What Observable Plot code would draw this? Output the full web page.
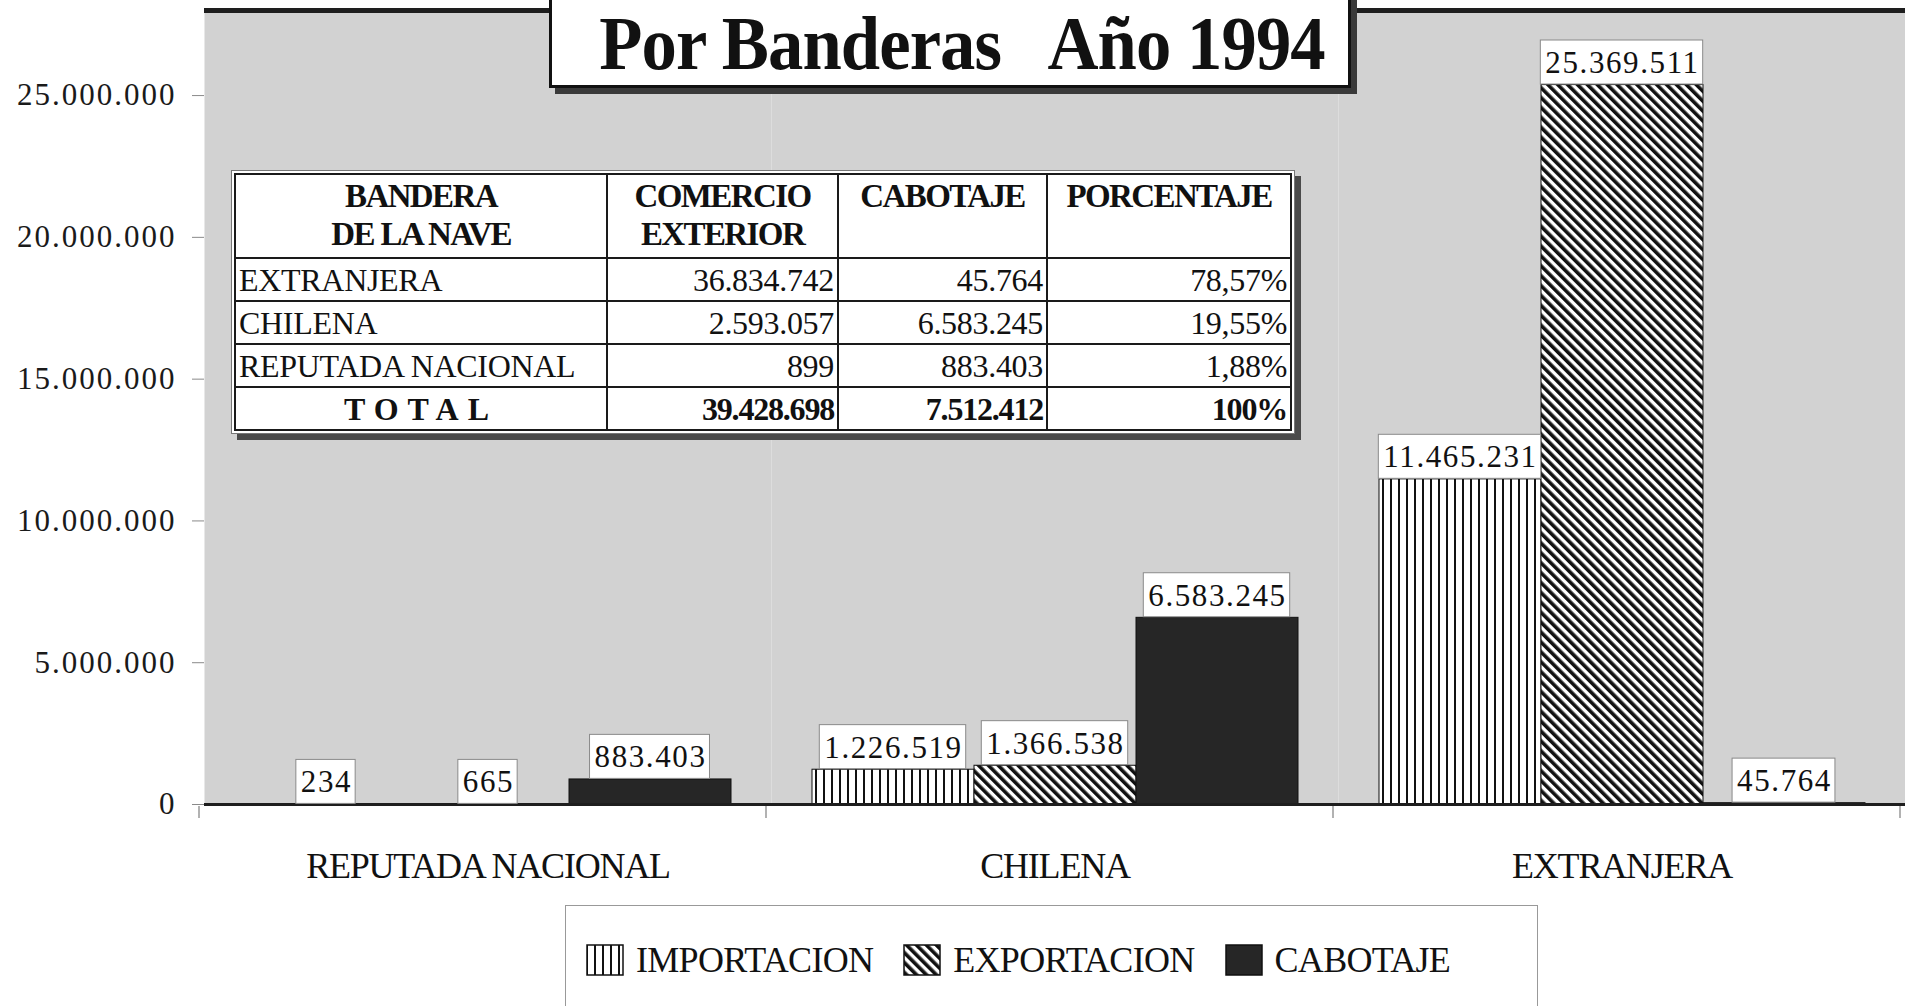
<!DOCTYPE html>
<html>
<head>
<meta charset="utf-8">
<script src="https://cdn.jsdelivr.net/npm/d3@7"></script>
<script src="https://cdn.jsdelivr.net/npm/@observablehq/plot@0.6"></script>
<style>
  html, body { margin: 0; padding: 0; background: #fff; }
  body { width: 1905px; height: 1006px; overflow: hidden; position: relative; font-family: 'Liberation Serif', 'Times New Roman', serif; color: #111; }
  #chart { position: absolute; left: 0; top: 0; }
  #title {
    position: absolute; left: 549px; top: -14px; width: 796px; height: 96px;
    background: #fff; border: 3px solid #111; box-shadow: 6px 6px 0 #3a3a3a;
    z-index: 3;
  }
  #title span {
    position: absolute; left: 50%; top: 16px; white-space: pre;
    font-weight: bold; font-size: 76px; letter-spacing: -1px; line-height: 76px;
    transform: translateX(-50%) scaleX(0.93); transform-origin: center; margin-left: 12px;
  }
  #tablewrap {
    position: absolute; left: 231px; top: 170px; z-index: 3;
    border: 1px solid #777; padding: 2px; background: #fff;
    box-shadow: 6px 6px 0 #4a4a4a;
  }
  #tablewrap table { border-collapse: collapse; border: 2px solid #1a1a1a; table-layout: fixed; width: 1056px; }
  #tablewrap td { border: 2px solid #1a1a1a; padding: 0 3px; font-size: 32px; line-height: 40px; height: 41px; letter-spacing: -0.3px; white-space: nowrap; overflow: hidden; }
  #tablewrap td.h { font-weight: bold; text-align: center; vertical-align: top; line-height: 38px; height: 80px; letter-spacing: -1.6px; padding-top: 2px; font-size: 33px; }
  #tablewrap td.n { text-align: right; }
  #tablewrap tr.tot td { font-weight: bold; letter-spacing: -1.2px; }
  #tablewrap tr.tot td.lab { text-align: center; letter-spacing: 9px; }
  #legend {
    position: absolute; left: 565px; top: 905px; width: 973px; height: 130px;
    border: 1.5px solid #999; background: #fff; z-index: 3;
    display: flex; align-items: flex-start; padding-left: 20px; box-sizing: border-box;
  }
  #legend .item { display: flex; align-items: center; margin-top: 36px; margin-right: 30px; }
  #legend .item svg { margin-right: 12px; }
  #legend .item span { font-size: 36px; letter-spacing: -0.7px; line-height: 36px; }
</style>
</head>
<body>
<div id="chart"></div>
<div id="title"></div>
<div id="tablewrap"></div>
<div id="legend"></div>
<script>
// ---------- data ----------
const titleText = "Por Banderas   Año 1994";
const categories = ["REPUTADA NACIONAL", "CHILENA", "EXTRANJERA"];
const series = ["IMPORTACION", "EXPORTACION", "CABOTAJE"];
const importacion = [234, 1226519, 11465231];
const exportacion = [665, 1366538, 25369511];
const cabotaje = [883403, 6583245, 45764];
const yTicks = [0, 5000000, 10000000, 15000000, 20000000, 25000000];

// table
const tableHeaders = [["BANDERA", "DE LA NAVE"], ["COMERCIO", "EXTERIOR"], ["CABOTAJE"], ["PORCENTAJE"]];
const tableFlags = ["EXTRANJERA", "CHILENA", "REPUTADA NACIONAL"];
const tableComercio = [36834742, 2593057, 899];
const tableCabotaje = [45764, 6583245, 883403];
const tablePorcentaje = ["78,57%", "19,55%", "1,88%"];
const totalLabel = "TOTAL";
const totalComercio = 39428698;
const totalCabotaje = 7512412;
const totalPorcentaje = "100%";

// ---------- helpers ----------
const locale = d3.formatLocale({decimal: ",", thousands: ".", grouping: [3], currency: ["", ""]});
const fmt = locale.format(",");
const seriesValues = [importacion, exportacion, cabotaje];
const data = categories.flatMap((c, i) => series.map((s, j) => ({cat: c, serie: s, value: seriesValues[j][i]})));

const W = 1905, H = 905;
const plot = Plot.plot({
  width: W, height: H,
  marginTop: 10, marginBottom: 101, marginLeft: 204, marginRight: 0,
  style: {fontFamily: "'Liberation Serif', 'Times New Roman', serif", fontSize: "31px", color: "#1a1a1a", background: "transparent", letterSpacing: "2px"},
  fx: {domain: categories, padding: 0, label: null},
  x: {domain: series, paddingInner: 0, paddingOuter: 0.25, axis: null},
  y: {domain: [0, 28000000], label: null},
  color: {domain: series, range: ["url(#pat-imp)", "url(#pat-exp)", "#262626"]},
  marks: [
    Plot.frame({fill: "#d2d2d2", stroke: null}),
    Plot.barY(data, {fx: "cat", x: "serie", y: "value", fill: "serie", stroke: "#111", strokeWidth: 1}),
    Plot.ruleY([0], {stroke: "#1e1e1e", strokeWidth: 3}),
    Plot.ruleY([28000000], {stroke: "#1e1e1e", strokeWidth: 5}),
    Plot.axisY({ticks: yTicks, tickFormat: fmt, tickSize: 12, tickPadding: 16, stroke: "#8a8a8a", fill: "#1a1a1a", label: null}),
    Plot.axisY({ticks: [], line: true, stroke: "#1e1e1e", strokeWidth: 4, label: null}),
    Plot.axisFx({anchor: "bottom", tickSize: 0, tickPadding: 48, fontSize: 36, fill: "#111", label: null}),
    Plot.text(data, {fx: "cat", x: "serie", y: "value", text: d => fmt(d.value), dy: -22, lineAnchor: "middle", fill: "#111", fontSize: 31})
  ]
});
document.getElementById("chart").appendChild(plot);

// pattern definitions (hatch fills used by the color scale)
const svg = d3.select(plot.tagName.toLowerCase() === "svg" ? plot : plot.querySelector("svg"));
const defs = svg.insert("defs", ":first-child");
const pImp = defs.append("pattern").attr("id", "pat-imp").attr("patternUnits", "userSpaceOnUse").attr("width", 8).attr("height", 8);
pImp.append("rect").attr("width", 8).attr("height", 8).attr("fill", "#fff");
pImp.append("rect").attr("x", 0).attr("width", 2).attr("height", 8).attr("fill", "#111");
const pExp = defs.append("pattern").attr("id", "pat-exp").attr("patternUnits", "userSpaceOnUse").attr("width", 7).attr("height", 7).attr("patternTransform", "rotate(-45)");
pExp.append("rect").attr("width", 7).attr("height", 7).attr("fill", "#fff");
pExp.append("rect").attr("x", 0).attr("width", 3.6).attr("height", 7).attr("fill", "#111");

// letter spacing of category labels and value labels
svg.selectAll('g[aria-label="fx-axis tick label"]').style("letter-spacing", "-1.2px");
svg.selectAll('g[aria-label="text"]').style("letter-spacing", "1.6px");

// white boxes behind value labels
svg.selectAll('g[aria-label="text"] text').each(function() {
  const bb = this.getBBox();
  const r = document.createElementNS("http://www.w3.org/2000/svg", "rect");
  r.setAttribute("x", bb.x - 5);
  r.setAttribute("y", bb.y - 5);
  r.setAttribute("width", bb.width + 8);
  r.setAttribute("height", bb.height + 9);
  r.setAttribute("fill", "#fff");
  r.setAttribute("stroke", "#8a8a8a");
  r.setAttribute("stroke-width", 1);
  const t = this.getAttribute("transform");
  if (t) r.setAttribute("transform", t);
  this.parentNode.insertBefore(r, this);
});

// small ticks at category boundaries, from the fx scale
try {
  const fx = plot.scale("fx");
  const band = d3.scaleBand().domain(fx.domain).range(fx.range).paddingInner(fx.paddingInner || 0).paddingOuter(fx.paddingOuter || 0);
  const y0 = plot.scale("y").apply(0);
  const edges = fx.domain.map(d => band(d)).concat([band(fx.domain[fx.domain.length - 1]) + band.bandwidth()]);
  svg.append("g").selectAll("line").data(edges).join("line")
    .attr("x1", d => d - 5).attr("x2", d => d - 5).attr("y1", y0 + 2).attr("y2", y0 + 14)
    .attr("stroke", "#999").attr("stroke-width", 1.5);
} catch (e) {}

// title
d3.select("#title").append("span").text(titleText);

// table
const tw = d3.select("#tablewrap").append("table");
const colW = [372, 231, 209, 244];
const cg = tw.append("colgroup");
colW.forEach(w => cg.append("col").style("width", w + "px"));
const hr = tw.append("tr");
tableHeaders.forEach((h, i) => hr.append("td").attr("class", "h").html(h.join("<br>")));
tableFlags.forEach((f, i) => {
  const tr = tw.append("tr");
  tr.append("td").text(f);
  tr.append("td").attr("class", "n").text(fmt(tableComercio[i]));
  tr.append("td").attr("class", "n").text(fmt(tableCabotaje[i]));
  tr.append("td").attr("class", "n").text(tablePorcentaje[i]);
});
const tt = tw.append("tr").attr("class", "tot");
tt.append("td").attr("class", "lab").text(totalLabel);
tt.append("td").attr("class", "n").text(fmt(totalComercio));
tt.append("td").attr("class", "n").text(fmt(totalCabotaje));
tt.append("td").attr("class", "n").text(totalPorcentaje);

// legend (swatches from the plot's color scale)
const color = plot.scale("color");
const lg = d3.select("#legend");
series.forEach(s => {
  const it = lg.append("div").attr("class", "item");
  const sv = it.append("svg").attr("width", 38).attr("height", 32);
  sv.append("rect").attr("x", 1).attr("y", 1).attr("width", 36).attr("height", 30)
    .attr("fill", color.apply(s)).attr("stroke", "#111").attr("stroke-width", 1.5);
  it.append("span").text(s);
});
</script>
</body>
</html>
